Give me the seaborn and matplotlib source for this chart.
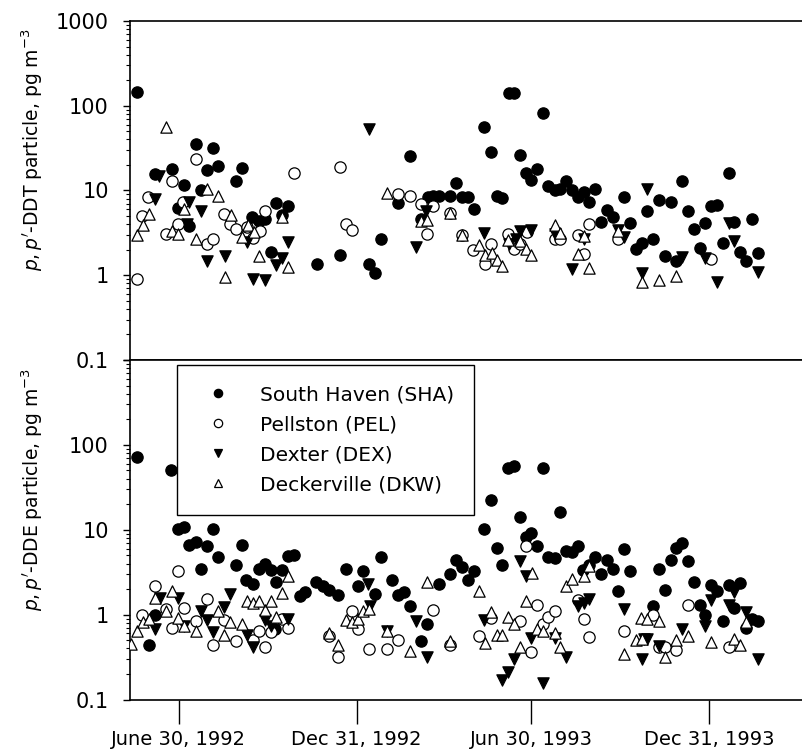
import matplotlib
matplotlib.use("Agg")
import matplotlib.pyplot as plt
import matplotlib.dates as mdates
from matplotlib import ticker as mtick
from matplotlib.lines import Line2D
import numpy as np
import pandas as pd
import seaborn as sns

# sample days counted from 30 June 1992, values in pg m-3
ddt_sha_days = [-43, -25, -7, -1, 5, 11, 18, 23, 29, 35, 41, 59, 65, 76, 83, 89, 95, 101, 107, 113,
                143, 167, 197, 203, 209, 227, 239, 251, 258, 263, 269, 281, 287, 293, 299, 305, 316, 323, 329, 335,
                342, 347, 353, 359, 365, 371, 377, 382, 389, 395, 401, 407, 413, 419, 425, 431, 437, 443, 449, 461,
                467, 473, 479, 485, 491, 497, 503, 509, 515, 521, 527, 533, 539, 545, 551, 557, 563, 569, 575, 581,
                587, 593, 599]
ddt_sha_vals = [145, 15.7, 17.8, 6.2, 11.7, 3.8, 35, 10, 17.5, 32, 19.7, 12.8, 18.2, 4.85, 4.35, 4.65, 1.9, 7.2, 5.2, 6.6,
                1.37, 1.72, 1.35, 1.05, 2.65, 7.2, 25.8, 4.65, 8.3, 8.7, 8.5, 8.5, 12.2, 8.3, 8.3, 6.1, 55.6, 28.2, 8.5, 8.1,
                143, 143, 26.5, 16.2, 13.4, 17.7, 83, 11.2, 10.2, 10.5, 12.9, 10, 8.3, 9.55, 7.4, 10.5, 4.24, 5.93, 4.85, 8.3,
                4.17, 2.02, 2.42, 5.7, 2.65, 7.8, 1.69, 7.3, 1.46, 12.9, 5.8, 3.48, 2.1, 4.17, 6.5, 6.7, 2.4, 16, 4.24, 1.9,
                1.47, 4.65, 1.83]
ddt_pel_days = [-43, -38, -32, -13, -7, -1, 4, 18, 29, 35, 47, 53, 59, 71, 77, 84, 89, 119, 167, 173,
                179, 227, 239, 251, 257, 263, 281, 293, 304, 317, 323, 341, 347, 353, 360, 389, 395, 413, 419, 425,
                455, 551]
ddt_pel_vals = [0.9, 5.0, 8.3, 3.06, 12.8, 4.06, 7.4, 23.4, 2.36, 2.67, 5.3, 4.06, 3.48, 3.7, 2.75, 3.32, 5.7, 16, 18.8, 4.0,
                3.38, 9.15, 8.5, 7.0, 3.1, 6.5, 5.4, 2.96, 1.97, 1.37, 2.36, 3.1, 2.06, 2.36, 3.23, 2.7, 2.7, 3.01, 1.8, 4.0,
                2.7, 1.54]
ddt_dex_days = [-25, -20, 8, 11, 23, 29, 48, 71, 77, 89, 101, 107, 113, 197, 245, 256, 316, 342, 349, 353,
                365, 389, 407, 419, 455, 461, 479, 485, 521, 545, 557, 569, 575, 599]
ddt_dex_vals = [8.0, 15, 4.0, 7.3, 5.7, 1.47, 1.69, 2.5, 0.91, 0.87, 1.31, 1.6, 2.5, 53, 2.15, 5.8, 3.18, 2.36, 2.7, 3.32,
                3.45, 3.1, 1.17, 2.7, 3.45, 2.82, 1.05, 10.5, 1.62, 1.6, 0.83, 4.12, 2.53, 1.09]
ddt_dkw_days = [-43, -37, -31, -13, -7, -1, 5, 18, 29, 41, 48, 54, 65, 72, 78, 83, 107, 113, 215, 251,
                257, 281, 293, 311, 317, 324, 329, 335, 341, 353, 359, 365, 389, 395, 413, 419, 425, 455, 479, 497,
                515]
ddt_dkw_vals = [3.01, 3.95, 5.3, 55.6, 3.3, 3.1, 6.1, 2.65, 10.5, 8.5, 0.95, 5.08, 2.82, 3.95, 3.23, 1.7, 4.85, 1.25, 9.3, 4.35,
                4.44, 5.4, 2.96, 2.3, 1.75, 1.83, 1.53, 1.28, 2.63, 2.53, 2.02, 1.75, 3.87, 3.15, 1.8, 2.9, 1.22, 3.3, 0.83, 0.87,
                0.97]

dde_sha_days = [-43, -31, -25, -8, -1, 5, 11, 18, 23, 29, 35, 41, 59, 65, 70, 77, 83, 89, 95, 100,
                101, 107, 113, 119, 125, 131, 142, 149, 155, 165, 173, 185, 191, 203, 209, 221, 227, 233, 239, 251,
                257, 269, 281, 287, 293, 299, 305, 316, 323, 329, 335, 341, 347, 353, 359, 365, 371, 377, 382, 389,
                395, 401, 407, 413, 418, 425, 431, 437, 443, 449, 455, 461, 467, 491, 497, 503, 509, 515, 521, 527,
                533, 539, 545, 551, 557, 563, 569, 575, 581, 587, 593, 599]
dde_sha_vals = [71, 0.435, 1.0, 50, 10.3, 10.8, 6.7, 7.2, 3.45, 6.5, 10.3, 4.77, 3.87, 6.65, 2.53, 2.3, 3.48, 4.0, 3.32, 0.68,
                2.4, 3.38, 4.85, 5.08, 1.64, 1.83, 2.4, 2.15, 1.93, 1.72, 3.48, 2.19, 3.23, 1.77, 4.72, 2.53, 1.72, 1.83, 1.28, 0.485,
                0.78, 2.32, 3.04, 4.35, 3.6, 2.58, 3.23, 10.2, 22.5, 6.1, 3.87, 54, 57, 14.1, 8.3, 9.15, 6.5, 54, 4.72, 4.65,
                16.4, 5.55, 5.4, 6.5, 3.32, 3.87, 4.77, 3.01, 4.44, 3.48, 1.88, 5.93, 3.23, 1.28, 3.48, 1.93, 4.44, 6.1, 7.0, 4.24,
                2.4, 1.31, 0.98, 2.21, 1.88, 0.83, 2.21, 1.2, 2.36, 0.70, 0.89, 0.85]
dde_pel_days = [-38, -25, -13, -7, -1, 5, 18, 29, 35, 47, 59, 77, 83, 89, 95, 107, 113, 155, 165, 179,
                185, 197, 215, 227, 263, 281, 311, 323, 353, 359, 365, 371, 377, 382, 389, 413, 419, 425, 461, 491,
                497, 503, 515, 527, 569]
dde_pel_vals = [1.0, 2.15, 1.18, 0.70, 3.3, 1.2, 0.83, 1.54, 0.435, 0.87, 0.49, 0.5, 0.64, 0.42, 0.63, 0.9, 0.70, 0.56, 0.32, 1.11,
                0.68, 0.39, 0.39, 0.5, 1.12, 0.44, 0.56, 0.91, 0.83, 6.5, 0.36, 1.31, 0.78, 0.94, 1.11, 1.5, 0.9, 0.55, 0.64, 1.0,
                0.42, 0.41, 0.38, 1.31, 0.42]
dde_dex_days = [-25, -19, -1, 5, 23, 29, 35, 47, 53, 71, 77, 89, 95, 113, 196, 198, 215, 245, 257, 316,
                335, 341, 347, 353, 359, 365, 377, 389, 401, 413, 419, 425, 461, 479, 481, 485, 497, 521, 545, 551,
                569, 575, 587, 599]
dde_dex_vals = [0.68, 1.57, 1.57, 0.73, 1.11, 0.87, 0.63, 1.23, 1.77, 0.58, 0.42, 0.87, 0.74, 0.9, 2.32, 1.25, 0.64, 0.83, 0.32, 0.87,
                0.17, 0.21, 0.30, 4.32, 2.88, 0.53, 0.157, 0.53, 0.32, 1.25, 1.37, 1.54, 1.18, 0.30, 0.52, 0.52, 0.43, 0.68, 0.74, 1.5,
                1.31, 1.83, 1.06, 0.30]
dde_dkw_days = [-49, -43, -37, -31, -25, -13, -7, -1, 5, 18, 41, 47, 53, 65, 71, 77, 83, 89, 95, 101,
                107, 113, 155, 165, 173, 179, 185, 191, 197, 215, 239, 257, 281, 311, 317, 323, 329, 335, 341, 347,
                353, 359, 366, 371, 377, 389, 395, 401, 407, 419, 425, 461, 473, 478, 479, 485, 497, 503, 515, 527,
                551, 575, 581, 587]
dde_dkw_vals = [0.45, 0.64, 0.82, 0.9, 1.57, 1.11, 1.88, 0.91, 0.73, 0.65, 1.11, 0.57, 0.82, 0.78, 1.46, 1.37, 1.46, 1.12, 1.43, 0.95,
                1.8, 2.82, 0.6, 0.44, 0.87, 0.82, 0.9, 1.11, 1.15, 0.64, 0.37, 2.42, 0.485, 1.92, 0.46, 1.06, 0.57, 0.57, 0.95, 0.78,
                0.41, 1.43, 3.1, 0.68, 0.64, 0.61, 0.41, 2.15, 2.63, 2.82, 3.7, 0.345, 0.5, 0.91, 0.52, 0.89, 0.83, 0.32, 0.5, 0.56,
                0.48, 0.52, 0.44, 0.81]

sites = ["South Haven (SHA)", "Pellston (PEL)", "Dexter (DEX)", "Deckerville (DKW)"]
markers = ["o", "o", "v", "^"]
faces = ["black", "white", "black", "white"]
tick_dates = ["1992-06-30", "1992-12-31", "1993-06-30", "1993-12-31"]
tick_labels = ["June 30, 1992", "Dec 31, 1992", "Jun 30, 1993", "Dec 31, 1993"]

base = pd.Timestamp("1992-06-30")


def make_frame(parts):
    rows = []
    for site, (days, vals) in zip(sites, parts):
        rows.append(pd.DataFrame({"date": base + pd.to_timedelta(days, unit="D"),
                                  "value": vals, "site": site}))
    return pd.concat(rows, ignore_index=True)


ddt = make_frame([(ddt_sha_days, ddt_sha_vals), (ddt_pel_days, ddt_pel_vals),
                  (ddt_dex_days, ddt_dex_vals), (ddt_dkw_days, ddt_dkw_vals)])
dde = make_frame([(dde_sha_days, dde_sha_vals), (dde_pel_days, dde_pel_vals),
                  (dde_dex_days, dde_dex_vals), (dde_dkw_days, dde_dkw_vals)])

sns.set_theme(style="ticks", rc={"axes.edgecolor": "black", "xtick.color": "black",
                                 "ytick.color": "black", "text.color": "black",
                                 "axes.labelcolor": "black", "axes.linewidth": 1.2})
plt.rcParams["font.family"] = ["DejaVu Sans"]

fig = plt.figure(figsize=(8.03, 7.54), dpi=100)
ax_top = fig.add_axes([0.1613, 0.52255, 0.8387, 0.4496])
ax_bot = fig.add_axes([0.1613, 0.07228, 0.8387, 0.45027])

xmin = pd.Timestamp("1992-05-10")
xmax = pd.Timestamp("1994-04-07")

for ax, df, ylab, show_top in [(ax_top, ddt, r"$p,p'$-DDT particle, pg m$^{-3}$", True),
                               (ax_bot, dde, r"$p,p'$-DDE particle, pg m$^{-3}$", False)]:
    for site, m, fc in zip(sites, markers, faces):
        sns.scatterplot(data=df[df["site"] == site], x="date", y="value", marker=m,
                        color=fc, edgecolor="black", linewidth=0.9, s=66, ax=ax,
                        legend=False, zorder=3)
    ax.set_yscale("log")
    ax.set_ylim(0.1, 1000)
    ax.set_xlim(xmin, xmax)
    ax.yaxis.set_major_locator(mtick.FixedLocator([0.1, 1, 10, 100, 1000]))
    if show_top:
        ax.yaxis.set_major_formatter(mtick.FuncFormatter(lambda v, p: f"{v:g}"))
    else:
        ax.yaxis.set_major_formatter(mtick.FuncFormatter(lambda v, p: "" if v > 500 else f"{v:g}"))
    ax.yaxis.set_minor_locator(mtick.LogLocator(base=10, subs=np.arange(2, 10)))
    ax.yaxis.set_minor_formatter(mtick.NullFormatter())
    ax.tick_params(axis="y", which="major", length=5, width=1, direction="out", pad=10, labelsize=15)
    ax.tick_params(axis="y", which="minor", length=3, width=0.8, direction="out")
    ax.set_ylabel(ylab, fontsize=13.5)
    ax.yaxis.set_label_coords(-0.125, 0.62)
    ax.set_xlabel("")
    sns.despine(ax=ax, right=True, top=False)

ax_top.tick_params(axis="x", which="both", bottom=False, labelbottom=False)
ax_bot.set_xticks([mdates.date2num(pd.Timestamp(d)) for d in tick_dates])
ax_bot.set_xticklabels(tick_labels)
ax_bot.xaxis.set_minor_locator(mtick.NullLocator())
ax_bot.tick_params(axis="x", length=17, width=1, direction="out", pad=5, labelsize=14)

handles = [Line2D([], [], ls="", marker=m, markerfacecolor=fc, markeredgecolor="black",
                  markeredgewidth=0.9, markersize=6) for m, fc in zip(markers, faces)]
leg = ax_bot.legend(handles, sites, loc="upper left", bbox_to_anchor=(0.071, 0.985),
                    frameon=True, fancybox=False, edgecolor="black", framealpha=1,
                    fontsize=14.5, borderpad=1.0, labelspacing=0.55, handlelength=2.0,
                    handletextpad=1.1, borderaxespad=0)
leg.get_frame().set_linewidth(1.0)

fig.savefig("out.png", dpi=100, facecolor="white")
